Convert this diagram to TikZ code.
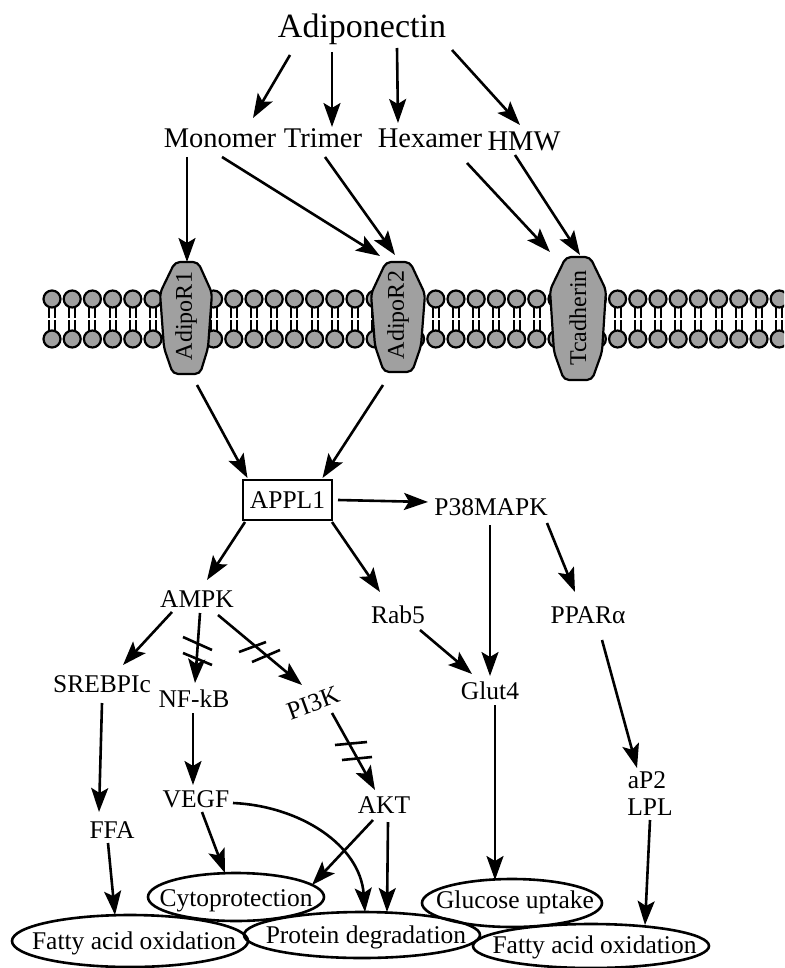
\documentclass[tikz,border=0pt]{standalone}
\usepackage{fontspec}
\setmainfont{Liberation Serif}
\usetikzlibrary{arrows.meta,calc,shapes.geometric}
\definecolor{protgray}{RGB}{160,160,160}
\begin{document}
\begin{tikzpicture}[x=1pt,y=-1pt,
  arr/.style={line width=2.6pt,-{Stealth[length=24pt,width=17pt,inset=5pt]}},
  lab/.style={font=\fontsize{25.5}{28}\selectfont,inner sep=0pt,anchor=base},
  toplab/.style={font=\fontsize{28.5}{32}\selectfont,inner sep=0pt,anchor=base},
  ell/.style={draw,line width=2.6pt,ellipse,inner sep=0pt},
  bar/.style={line width=2.6pt},
  prot/.style={fill=protgray,draw=black,line width=2.2pt,rounded corners=5pt},
  head/.style={fill=protgray,draw=black,line width=2.2pt},
  rlab/.style={font=\fontsize{24}{26}\selectfont,inner sep=0pt,rotate=90},
]
\useasboundingbox (0,0) rectangle (784,968);
\clip (0,0) rectangle (784,968);

% ---------- membrane ----------
\foreach \k in {0,...,36}{
  \pgfmathsetmacro\xx{52+20.2*\k}
  \draw[line width=2pt] (\xx-3,307) -- (\xx-3,331) (\xx+3,307) -- (\xx+3,331);
  \draw[white,line width=1.2pt] (\xx-5.5,319) -- (\xx+5.5,319);
  \filldraw[head] (\xx,299) circle[radius=8.5pt];
  \filldraw[head] (\xx,339) circle[radius=8.5pt];
}

% ---------- receptors ----------
\filldraw[prot] (175,262) -- (198,262) -- (212,293) -- (208,348) -- (200,374) -- (173,374) -- (164,348) -- (160,293) -- cycle;
\filldraw[prot] (386,262) -- (410,262) -- (425,294) -- (421,346) -- (412,372) -- (384,372) -- (375,346) -- (371,294) -- cycle;
\filldraw[prot] (566,257) -- (590,257) -- (606,290) -- (602,352) -- (592,380) -- (564,380) -- (554,352) -- (550,290) -- cycle;
\node[rlab] (r1) at (186,316) {AdipoR1};
\node[rlab] (r2) at (398,315) {AdipoR2};
\node[rlab] (tcad) at (578,318) {Tcadherin};

% ---------- text nodes ----------
\node[font=\fontsize{34}{38}\selectfont,inner sep=0pt,anchor=base] (adipo) at (362,38) {Adiponectin};
\node[toplab] (mono) at (220,148) {Monomer};
\node[toplab] (tri) at (323,148) {Trimer};
\node[toplab] (hexa) at (430,148) {Hexamer};
\node[toplab] (hmw) at (524,151) {HMW};

\node[lab,draw,line width=2.6pt,anchor=center,minimum width=89pt,minimum height=40pt] (appl) at (287.5,500) {APPL1};
\node[lab] (p38) at (491,515) {P38MAPK};
\node[lab] (ampk) at (197,607) {AMPK};
\node[lab] (rab5) at (398,623) {Rab5};
\node[lab] (ppar) at (588,623) {PPARα};
\node[lab] (srebp) at (102,692) {SREBPIc};
\node[lab] (nfkb) at (194,707) {NF-kB};
\node[lab,anchor=center,rotate=20] (pi3k) at (313,703) {PI3K};
\node[lab] (glut4) at (490,699) {Glut4};
\node[lab] (vegf) at (196,807) {VEGF};
\node[lab] (akt) at (384,813) {AKT};
\node[lab] (ffa) at (112,838) {FFA};
\node[lab] (ap2) at (647,788) {aP2};
\node[lab] (lpl) at (650,815) {LPL};

% ---------- outcome ellipses ----------
\node[ell,minimum width=176pt,minimum height=48pt] (cyto) at (236,897) {};
\node[ell,minimum width=236pt,minimum height=52pt] (fao1) at (130,941) {};
\node[ell,minimum width=236pt,minimum height=46pt] (prot) at (362,935) {};
\node[ell,minimum width=180pt,minimum height=48pt] (gluc) at (512,903) {};
\node[ell,minimum width=236pt,minimum height=44pt] (fao2) at (591,946) {};
\node[lab] (cytot) at (236,906) {Cytoprotection};
\node[lab] (fao1t) at (134,949) {Fatty acid oxidation};
\node[lab] (prott) at (366,943) {Protein degradation};
\node[lab] (gluct) at (515,908) {Glucose uptake};
\node[lab] (fao2t) at (594.5,953) {Fatty acid oxidation};

% ---------- connectors ----------
\draw[arr] ($(adipo.base)+(-72,17)$) -- ($(mono.base)+(33,-30)$);
\draw[arr] ($(adipo.base)+(-30,14)$) -- ($(tri.base)+(9,-21)$);
\draw[arr] ($(adipo.base)+(35,10)$) -- ($(hexa.base)+(-32,-25)$);
\draw[arr] ($(adipo.base)+(90,12)$) -- ($(hmw.base)+(-4,-26)$);

\draw[arr] ($(mono.base)+(-33,9)$) -- ($(r1)+(1,-54)$);
\draw[arr] ($(mono.base)+(2,9)$) -- ($(r2)+(-18,-59)$);
\draw[arr] ($(tri.base)+(2,9)$) -- ($(r2)+(-3,-60)$);
\draw[arr] ($(hexa.base)+(37,15)$) -- ($(tcad)+(-28,-66)$);
\draw[arr] ($(hmw.base)+(-9,4)$) -- ($(tcad)+(2,-63)$);

\draw[arr] ($(r1)+(11,69)$) -- ($(appl)+(-40,-22)$);
\draw[arr] ($(r2)+(-15,70)$) -- ($(appl)+(35,-22)$);

\draw[arr] ($(appl)+(50.5,0)$) -- ($(p38.base)+(-63,-13)$);
\draw[arr] ($(appl)+(-42.5,22)$) -- ($(ampk.base)+(10,-27)$);
\draw[arr] ($(appl)+(44.5,22)$) -- ($(rab5.base)+(-18,-31)$);

\draw[arr] ($(p38.base)+(-1,10)$) -- ($(glut4.base)+(0,-23)$);
\draw[arr] ($(p38.base)+(56,8)$) -- ($(ppar.base)+(-13,-31)$);
\draw[arr] ($(rab5.base)+(22,7)$) -- ($(glut4.base)+(-18,-25)$);

\draw[arr] ($(ampk.base)+(-25,5)$) -- ($(srebp.base)+(21,-27)$);
\draw[arr] ($(ampk.base)+(3,6)$) -- ($(nfkb.base)+(1,-24)$);
\draw[arr] ($(ampk.base)+(21,8)$) -- ($(pi3k)+(-11,-18)$);
\draw[arr] ($(pi3k)+(19,10)$) -- ($(akt.base)+(-9,-23)$);

\draw[arr] ($(nfkb.base)+(-1,6)$) -- ($(vegf.base)+(-3,-22)$);
\draw[arr] ($(vegf.base)+(6,5)$) -- ($(cyto)+(-11,-24)$);
\draw[arr] ($(vegf.base)+(37,-4)$) .. controls (300,806) and (360,845) .. ($(prot)+(3,-23)$);
\draw[arr] ($(akt.base)+(-11,7)$) -- ($(cyto)+(76,-12)$);
\draw[arr] ($(akt.base)+(4,9)$) -- ($(prot)+(25,-23)$);

\draw[arr] ($(srebp.base)+(0,11)$) -- ($(ffa.base)+(-13,-26)$);
\draw[arr] ($(ffa.base)+(-4,5)$) -- ($(fao1)+(-15,-26)$);
\draw[arr] ($(glut4.base)+(5,6)$) -- ($(gluc)+(-17,-23)$);
\draw[arr] ($(ppar.base)+(14,17)$) -- ($(ap2.base)+(-10,-20)$);
\draw[arr] ($(lpl.base)+(0,5)$) -- ($(fao2)+(54,-21)$);

% ---------- inhibition bars ----------
\draw[bar] (183,637) -- (212,650);
\draw[bar] (183,653) -- (212,665);
\draw[bar] (239,652) -- (266,642);
\draw[bar] (252,662) -- (280,650);
\draw[bar] (335,745) -- (367,742);
\draw[bar] (342,760) -- (372,757);
\end{tikzpicture}
\end{document}
